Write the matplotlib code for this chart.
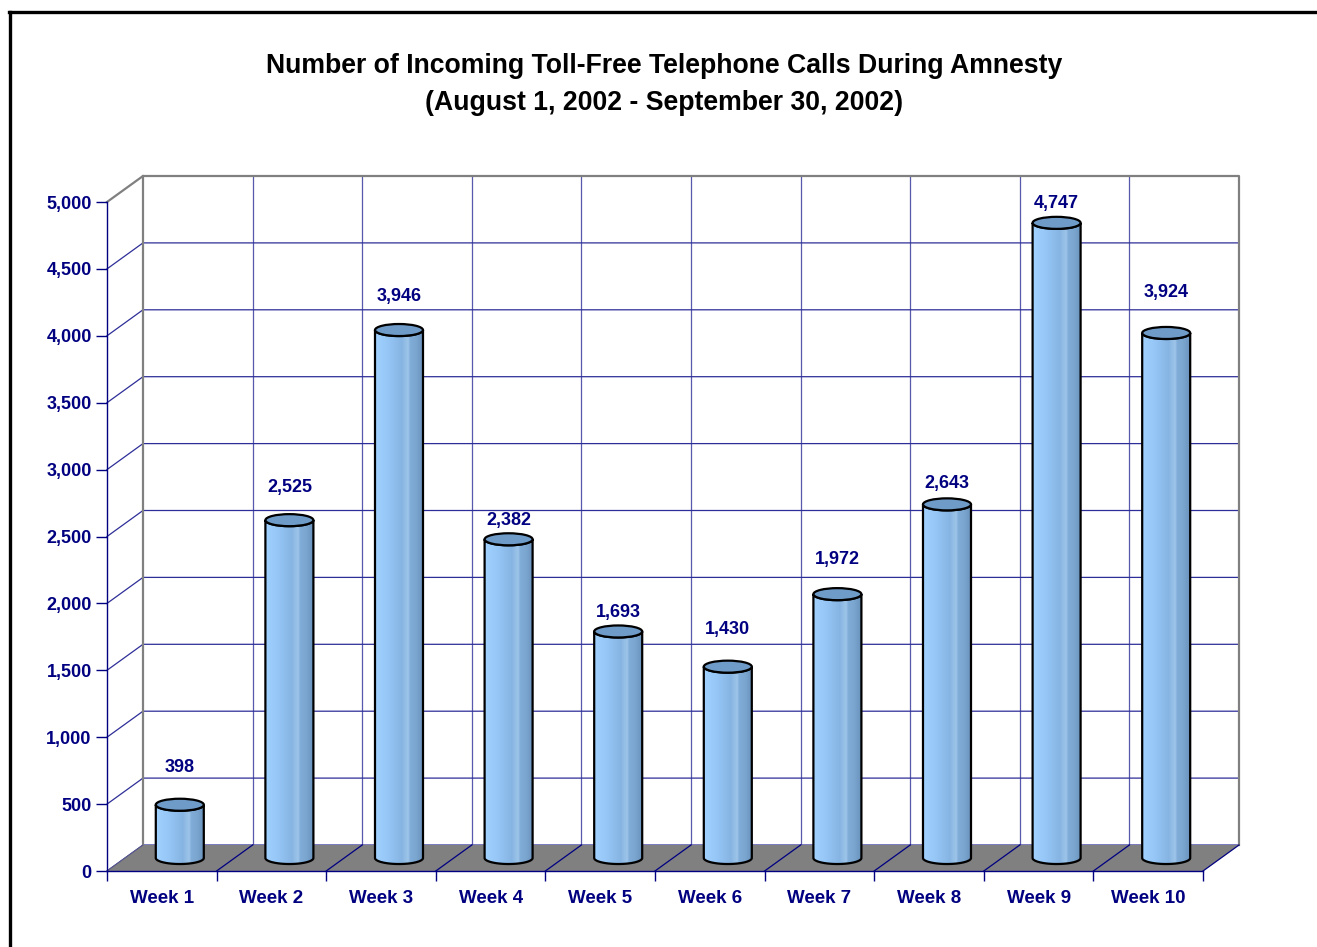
import numpy as np
import matplotlib
matplotlib.use("Agg")
import matplotlib.pyplot as plt
from matplotlib.patches import Polygon, Ellipse, PathPatch
from matplotlib.path import Path
from matplotlib.colors import LinearSegmentedColormap
from matplotlib.lines import Line2D

plt.rcParams["font.family"] = ["Liberation Sans", "DejaVu Sans"]

weeks = ["Week 1", "Week 2", "Week 3", "Week 4", "Week 5",
         "Week 6", "Week 7", "Week 8", "Week 9", "Week 10"]
calls = [398, 2525, 3946, 2382, 1693, 1430, 1972, 2643, 4747, 3924]
yticks = list(range(0, 5001, 500))

# label distance above the cylinder top, in pixels (Excel placed them unevenly)
label_gap = [37, 33, 34, 19, 19, 37, 35, 21, 19, 40]

navy = "#000080"
grid_col = "#2e2e98"
wall_edge = "#808080"

fig = plt.figure(figsize=(13.17, 9.47), dpi=100)
ax = fig.add_axes([107 / 1317, 76 / 947, 1096 / 1317, 669 / 947])
ax.set_xlim(0, 10)
ax.set_ylim(0, 5000)
ax.patch.set_visible(False)

# depth offset of the back wall (in data units)
dx = 36 / 109.6
dy = 26 / (669 / 5000)
n = len(calls)

# back wall grid
for v in yticks[:-1]:
    ax.plot([0, dx, n + dx], [v, v + dy, v + dy], color=grid_col, lw=0.9,
            zorder=1, clip_on=False)
for i in range(1, n):
    ax.plot([i + dx, i + dx], [dy, 5000 + dy], color=grid_col, lw=0.9,
            alpha=0.8, zorder=1, clip_on=False)
# wall outline
ax.plot([0, dx, n + dx, n + dx], [5000, 5000 + dy, 5000 + dy, dy],
        color=wall_edge, lw=1.6, zorder=1.5, clip_on=False)
ax.plot([dx, dx], [dy, 5000 + dy], color=wall_edge, lw=1.6, zorder=1.5,
        clip_on=False)

# floor
floor = Polygon([(0, 0), (n, 0), (n + dx, dy), (dx, dy)], closed=True,
                facecolor="#808080", edgecolor="none", zorder=2, clip_on=False)
ax.add_patch(floor)
for i in range(1, n + 1):
    ax.plot([i, i + dx], [0, dy], color=navy, lw=0.9, zorder=3, clip_on=False)
ax.plot([0, dx], [0, dy], color="#5a5a8a", lw=0.8, zorder=3, clip_on=False)

# cylinders
cmap = LinearSegmentedColormap.from_list("cyl", [
    (0.0, "#a2d2ff"), (0.3, "#94c4f4"), (0.55, "#86b4e2"),
    (0.68, "#9fc6ea"), (0.72, "#80acd8"), (0.85, "#7aa5cf"), (1.0, "#6890ba")])
grad = cmap(np.linspace(0, 1, 256))[np.newaxis, :, :3]

hw = 0.219            # half width
eh = 45.0             # half height of ellipses
t = np.linspace(np.pi, 2 * np.pi, 60)
for i, v in enumerate(calls):
    cx = i + 0.5 + dx / 2
    base = dy / 2
    top = v + dy / 2
    # body outline: left side, lower half of top ellipse, right side, lower half of bottom
    top_arc = np.column_stack([cx + hw * np.cos(t), top + eh * np.sin(t)])
    bot_arc = np.column_stack([cx + hw * np.cos(t), base + eh * np.sin(t)])[::-1]
    verts = np.vstack([[cx - hw, base], [cx - hw, top], top_arc,
                       [cx + hw, top], [cx + hw, base], bot_arc, [[cx - hw, base]]])
    body = PathPatch(Path(verts, closed=True), facecolor="none",
                     edgecolor="black", lw=1.6, zorder=5)
    ax.add_patch(body)
    img = ax.imshow(grad, extent=[cx - hw, cx + hw, base - eh, top + eh],
                    aspect="auto", zorder=4, interpolation="bilinear")
    img.set_clip_path(body)
    cap = Ellipse((cx, top), 2 * hw, 2 * eh, facecolor="#6f9bc8",
                  edgecolor="black", lw=1.6, zorder=6)
    ax.add_patch(cap)
    ax.annotate(f"{v:,}", (cx, top), xytext=(0, label_gap[i]),
                textcoords="offset pixels", ha="center", va="center",
                color=navy, fontsize=13, fontweight="bold", zorder=7)

ax.set_xlim(0, 10)
ax.set_ylim(0, 5000)

# axes
for s in ["top", "right"]:
    ax.spines[s].set_visible(False)
for s in ["left", "bottom"]:
    ax.spines[s].set_color(navy)
    ax.spines[s].set_linewidth(1.0)
    ax.spines[s].set_zorder(3)

ax.set_yticks(yticks)
ax.set_yticklabels([f"{v:,}" for v in yticks])
ax.tick_params(axis="y", colors=navy, length=8, width=1.0, pad=3, labelsize=13)
ax.set_xticks(range(n + 1))
ax.set_xticklabels([])
ax.tick_params(axis="x", which="major", colors=navy, length=7.5, width=1.0)
ax.set_xticks(np.arange(n) + 0.5, minor=True)
ax.set_xticklabels(weeks, minor=True)
ax.tick_params(axis="x", which="minor", length=0, pad=13.5, labelsize=13.5,
               labelcolor=navy)
for lab in ax.get_yticklabels() + ax.get_xticklabels(minor=True):
    lab.set_fontweight("bold")

# title
fig.text(664 / 1317, 1 - 66 / 947,
         "Number of Incoming Toll-Free Telephone Calls During Amnesty",
         ha="center", va="center", fontsize=19.2, fontweight="bold")
fig.text(664 / 1317, 1 - 103 / 947, "(August 1, 2002 - September 30, 2002)",
         ha="center", va="center", fontsize=19.2, fontweight="bold")

# outer frame (cut off at right and bottom in the original)
fig.add_artist(Line2D([10 / 1317, 10 / 1317], [0, 1 - 12 / 947],
                      color="black", lw=2.4, transform=fig.transFigure))
fig.add_artist(Line2D([9 / 1317, 1], [1 - 12 / 947, 1 - 12 / 947],
                      color="black", lw=2.4, transform=fig.transFigure))

plt.savefig("out.png", dpi=100)
